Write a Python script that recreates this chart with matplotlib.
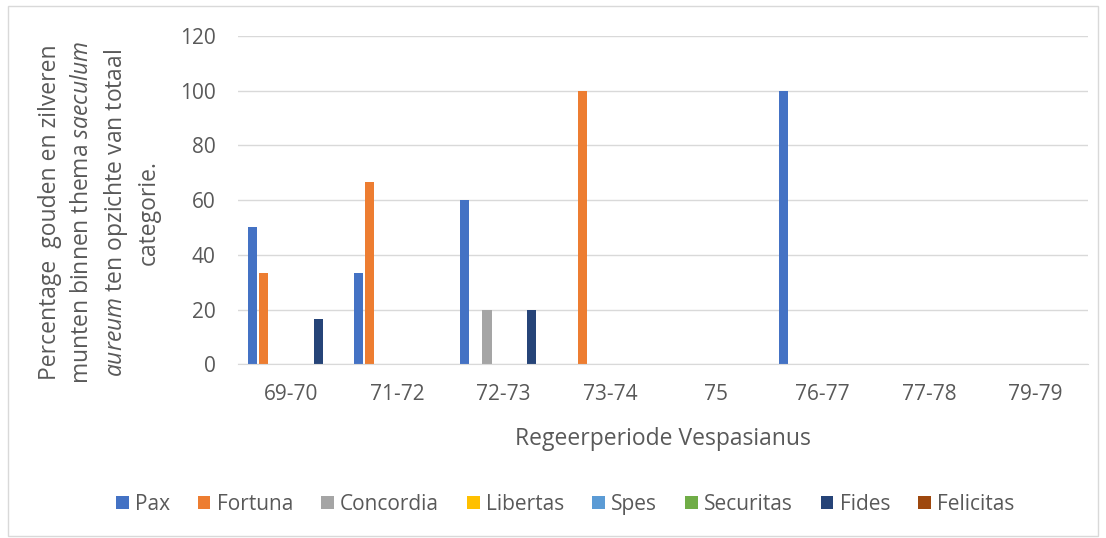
import matplotlib.pyplot as plt
from matplotlib.patches import Rectangle
import numpy as np

plt.rcParams['font.family'] = ['Open Sans', 'DejaVu Sans']
plt.rcParams['mathtext.fontset'] = 'custom'
plt.rcParams['mathtext.rm'] = 'Open Sans'
plt.rcParams['mathtext.it'] = 'Open Sans:italic'

periods = ['69-70', '71-72', '72-73', '73-74', '75', '76-77', '77-78', '79-79']
series = ['Pax', 'Fortuna', 'Concordia', 'Libertas', 'Spes', 'Securitas', 'Fides', 'Felicitas']
colors = ['#4472C4', '#ED7D31', '#A5A5A5', '#FFC000', '#5B9BD5', '#70AD47', '#264478', '#9E480E']

pax = [50, 33.3, 60, 0, 0, 100, 0, 0]
fortuna = [33.3, 66.7, 0, 100, 0, 0, 0, 0]
concordia = [0, 0, 20, 0, 0, 0, 0, 0]
libertas = [0, 0, 0, 0, 0, 0, 0, 0]
spes = [0, 0, 0, 0, 0, 0, 0, 0]
securitas = [0, 0, 0, 0, 0, 0, 0, 0]
fides = [16.7, 0, 20, 0, 0, 0, 0, 0]
felicitas = [0, 0, 0, 0, 0, 0, 0, 0]
values = [pax, fortuna, concordia, libertas, spes, securitas, fides, felicitas]

txt = '#595959'
fig = plt.figure(figsize=(11.06, 5.38), dpi=100)
fig.patches.append(Rectangle((0.007, 0.004), 0.986, 0.985, transform=fig.transFigure,
                             fill=False, edgecolor='#d9d9d9', linewidth=1))
ax = fig.add_axes([0.215, 0.323, 0.769, 0.61])

x = np.arange(len(periods))
slot = 0.104
for i, (name, vals) in enumerate(zip(series, values)):
    ax.bar(x - 4 * slot + (i + 0.5) * slot, vals, width=0.085, color=colors[i], label=name)

ax.set_xlim(-0.5, len(periods) - 0.5)
ax.set_ylim(0, 120)
ax.set_yticks(range(0, 121, 20))
ax.set_xticks(x)
ax.set_xticklabels(periods)
ax.grid(axis='y', color='#d9d9d9', linewidth=1)
ax.set_axisbelow(True)
for s in ['top', 'right', 'left']:
    ax.spines[s].set_visible(False)
ax.spines['bottom'].set_color('#d9d9d9')
ax.tick_params(length=0, labelsize=15, colors=txt, pad=14)
ax.tick_params(axis='y', pad=16)

ax.set_xlabel('Regeerperiode Vespasianus', fontsize=16.5, color=txt, labelpad=16)
ylabel = ('Percentage  gouden en zilveren\n'
          r'munten binnen thema $\mathit{saeculum}$' + '\n'
          r'$\mathit{aureum}$ ten opzichte van totaal' + '\n'
          'categorie.')
fig.text(0.09, 0.605, ylabel, rotation=90, ha='center', va='center',
         fontsize=16.5, color=txt, multialignment='center', linespacing=1.4)

fig.legend(loc='center', bbox_to_anchor=(0.511, 0.063), ncol=8, frameon=False,
           fontsize=15, labelcolor=txt, handlelength=0.6, handleheight=0.6,
           handletextpad=0.3, columnspacing=1.35)

fig.savefig('out.png', dpi=100)
